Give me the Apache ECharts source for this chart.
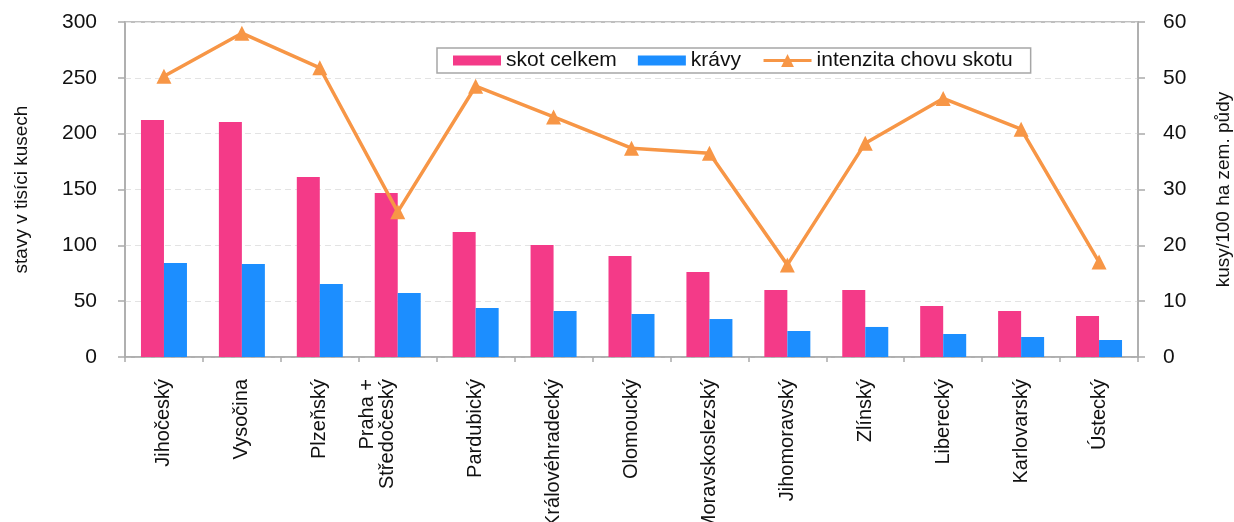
<!DOCTYPE html>
<html>
<head>
<meta charset="utf-8">
<script src="https://cdn.jsdelivr.net/npm/echarts@6/dist/echarts.min.js"></script>
<style>
html,body{margin:0;padding:0;background:#fff;}
#chart{width:1234px;height:522px;}
</style>
</head>
<body>
<div id="chart"></div>
<script>
const categories = ['Jihočeský','Vysočina','Plzeňský','Praha +\nStředočeský','Pardubický','Královéhradecký','Olomoucký','Moravskoslezský','Jihomoravský','Zlínský','Liberecký','Karlovarský','Ústecký'];
const skotCelkem = [212.2, 210.4, 161.2, 146.9, 111.9, 100.3, 90.4, 76.1, 60.0, 60.0, 45.7, 41.2, 36.7];
const kravy = [84.2, 83.3, 65.4, 57.3, 43.9, 41.2, 38.5, 34.0, 23.3, 26.9, 20.6, 17.9, 15.2];
const intenzita = [50.3, 58.0, 51.8, 26.0, 48.5, 43.0, 37.4, 36.5, 16.5, 38.3, 46.3, 40.8, 17.0];
const seriesNames = ['skot celkem','krávy','intenzita chovu skotu'];
const leftTicks = {min:0, max:300, interval:50};
const rightTicks = {min:0, max:60, interval:10};

const FONT = 'Liberation Sans, Arial, sans-serif';
const axisGray = '#ababab';
const barIcon = 'path://M0,0M0,3H48V13H0ZM48,16';

const chart = echarts.init(document.getElementById('chart'), null, {renderer:'canvas'});
const catData = categories.map(c => c.indexOf('\n') >= 0
  ? {value:c, textStyle:{verticalAlign:'bottom'}}
  : c);

chart.setOption({
  animation:false,
  textStyle:{fontFamily:FONT},
  grid:{left:125, right:96, top:22, bottom:165, containLabel:false, outerBoundsMode:'none',
        show:true, borderColor:axisGray, borderWidth:1.5, backgroundColor:'transparent'},
  legend:{
    data:[
      {name:seriesNames[0], icon:barIcon},
      {name:seriesNames[1], icon:barIcon},
      {name:seriesNames[2]}
    ],
    left:437, top:48,
    padding:[2,18,2,16],
    itemGap:21,
    itemWidth:48, itemHeight:16,
    lineStyle:{width:3},
    backgroundColor:'#fff',
    borderColor:'#a6a6a6', borderWidth:1.5, borderRadius:0,
    textStyle:{fontSize:21, color:'#111', fontFamily:FONT}
  },
  xAxis:{
    type:'category',
    data:catData,
    axisLine:{lineStyle:{color:axisGray, width:1.5}},
    axisTick:{show:true, alignWithLabel:false, length:5, lineStyle:{color:axisGray, width:1.5}},
    axisLabel:{rotate:90, margin:22, fontSize:20, color:'#111', fontFamily:FONT, interval:0}
  },
  yAxis:[
    {
      type:'value', min:leftTicks.min, max:leftTicks.max, interval:leftTicks.interval,
      name:'stavy v tisíci kusech', nameLocation:'middle', nameGap:94, nameRotate:90,
      nameTextStyle:{fontSize:19, color:'#111', fontFamily:FONT},
      axisLine:{show:true, lineStyle:{color:axisGray, width:1.5}},
      axisTick:{show:true, length:7, lineStyle:{color:axisGray, width:1.5}},
      axisLabel:{fontSize:21, color:'#111', margin:28, fontFamily:FONT},
      splitLine:{show:true, lineStyle:{color:'#e3e3e3', type:[6,4], width:1.2}}
    },
    {
      type:'value', min:rightTicks.min, max:rightTicks.max, interval:rightTicks.interval,
      position:'right',
      name:'kusy/100 ha zem. půdy', nameLocation:'middle', nameGap:76, nameRotate:90,
      nameTextStyle:{fontSize:19, color:'#111', fontFamily:FONT},
      axisLine:{show:true, lineStyle:{color:axisGray, width:1.5}},
      axisTick:{show:true, length:7, lineStyle:{color:axisGray, width:1.5}},
      axisLabel:{fontSize:21, color:'#111', margin:25, fontFamily:FONT},
      splitLine:{show:false}
    }
  ],
  series:[
    {name:seriesNames[0], type:'bar', data:skotCelkem, barWidth:23, barGap:'0%', itemStyle:{color:'#F43A88'}},
    {name:seriesNames[1], type:'bar', data:kravy, barWidth:23, barGap:'0%', itemStyle:{color:'#1C8EFF'}},
    {name:seriesNames[2], type:'line', yAxisIndex:1, data:intenzita, symbol:'triangle', symbolSize:15,
     lineStyle:{color:'#F79646', width:3.5}, itemStyle:{color:'#F79646'}, z:5}
  ]
});
</script>
</body>
</html>
